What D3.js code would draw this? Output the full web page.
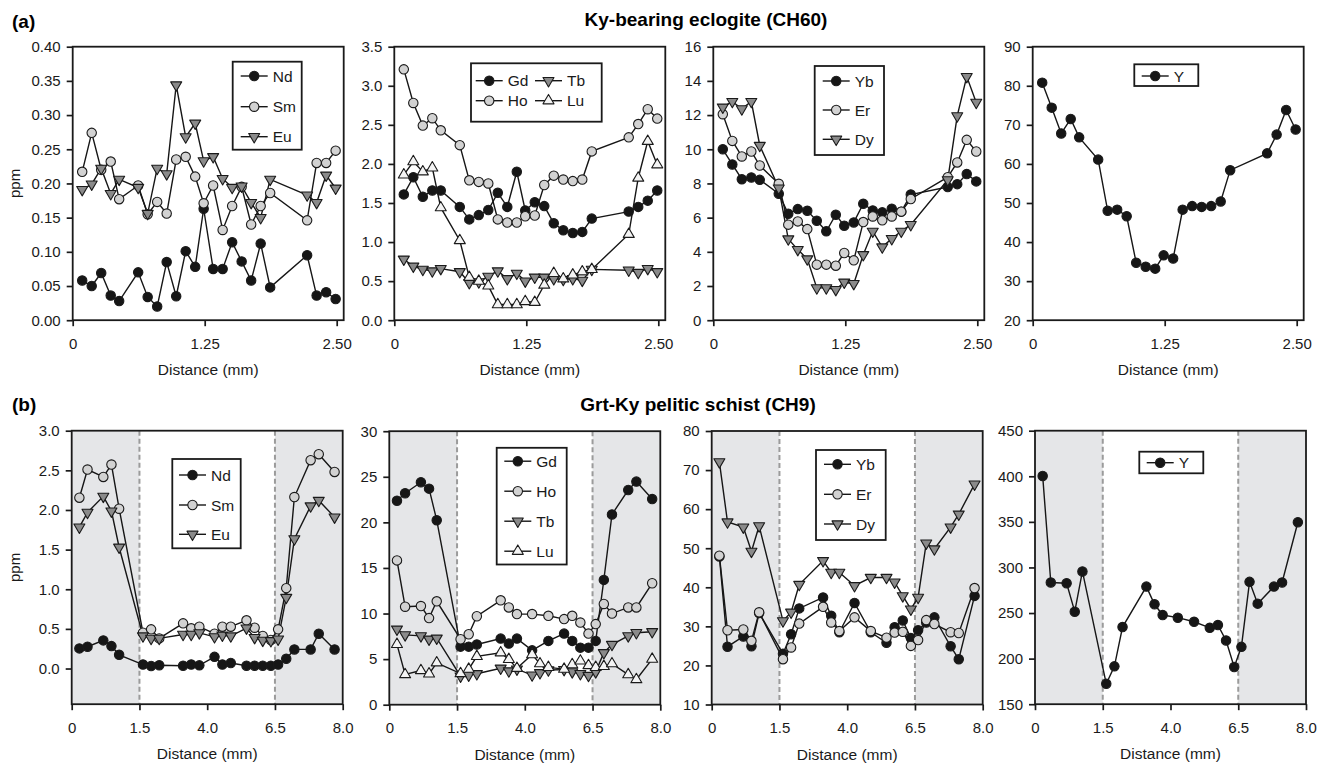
<!DOCTYPE html>
<html>
<head>
<meta charset="utf-8">
<script src="https://cdn.jsdelivr.net/npm/d3@7/dist/d3.min.js"></script>
<style>
  html, body { margin: 0; padding: 0; background: #fff; }
  svg { display: block; font-family: "Liberation Sans", Arial, sans-serif; }
</style>
</head>
<body>
<svg id="chart" width="1334" height="766"></svg>
<script>
// ---- Sampling positions along each traverse (mm) ----
const distA = [0.09, 0.18, 0.27, 0.36, 0.44, 0.62, 0.71, 0.80, 0.89, 0.98, 1.07, 1.16,
               1.24, 1.33, 1.42, 1.51, 1.60, 1.69, 1.78, 1.87, 2.22, 2.31, 2.40, 2.49];
const distB = [0.17, 0.35, 0.70, 0.88, 1.05, 1.63, 1.93, 2.23, 3.11, 3.41, 3.71, 4.27,
               4.56, 4.87, 5.45, 5.75, 6.05, 6.35, 6.57, 6.75, 6.93, 7.29, 7.47, 7.82];

// ---- (a) Ky-bearing eclogite CH60, ppm ----
const ndA = [0.058, 0.050, 0.069, 0.036, 0.028, 0.070, 0.034, 0.020, 0.085, 0.035, 0.101, 0.078,
             0.163, 0.075, 0.075, 0.114, 0.086, 0.058, 0.112, 0.048, 0.095, 0.036, 0.041, 0.031];
const smA = [0.217, 0.274, 0.220, 0.232, 0.177, 0.197, 0.155, 0.173, 0.156, 0.235, 0.239, 0.210,
             0.171, 0.197, 0.132, 0.167, 0.195, 0.140, 0.167, 0.186, 0.146, 0.230, 0.230, 0.248];
const euA = [0.191, 0.199, 0.222, 0.185, 0.206, 0.194, 0.156, 0.222, 0.214, 0.344, 0.268, 0.288,
             0.233, 0.239, 0.207, 0.194, 0.196, 0.172, 0.150, 0.206, 0.183, 0.172, 0.212, 0.193];
const gdA = [1.61, 1.83, 1.58, 1.66, 1.66, 1.45, 1.29, 1.345, 1.41, 1.63, 1.45, 1.90,
             1.405, 1.51, 1.46, 1.24, 1.15, 1.115, 1.13, 1.30, 1.39, 1.45, 1.53, 1.66];
const hoA = [3.21, 2.78, 2.49, 2.585, 2.43, 2.24, 1.79, 1.77, 1.75, 1.29, 1.25, 1.25,
             1.33, 1.34, 1.73, 1.85, 1.80, 1.78, 1.80, 2.16, 2.34, 2.51, 2.70, 2.58];
const tbA = [0.78, 0.69, 0.65, 0.63, 0.66, 0.62, 0.48, 0.49, 0.56, 0.63, 0.53, 0.60,
             0.50, 0.55, 0.55, 0.53, 0.52, 0.53, 0.51, 0.65, 0.64, 0.61, 0.66, 0.62];
const luA = [1.86, 2.03, 1.90, 1.95, 1.44, 1.02, 0.55, 0.50, 0.44, 0.20, 0.20, 0.20,
             0.24, 0.23, 0.45, 0.60, 0.53, 0.58, 0.62, 0.65, 1.10, 1.82, 2.29, 1.99];
const ybA = [10.0, 9.11, 8.25, 8.35, 8.21, 7.40, 6.23, 6.50, 6.40, 5.82, 5.20, 6.17,
             5.53, 5.72, 6.81, 6.42, 6.31, 6.52, 6.35, 7.35, 7.79, 7.96, 8.55, 8.12];
const erA = [12.05, 10.49, 9.58, 9.87, 9.05, 7.98, 5.59, 5.78, 5.33, 3.25, 3.25, 3.19,
             3.93, 3.50, 5.74, 6.07, 5.84, 6.07, 6.35, 7.09, 8.37, 9.23, 10.55, 9.87];
const dyA = [12.46, 12.79, 12.36, 12.79, 10.22, 7.73, 4.75, 4.13, 3.58, 1.89, 1.89, 1.79,
             2.22, 2.14, 3.83, 5.20, 4.28, 4.77, 5.20, 5.59, 8.21, 11.95, 14.25, 12.74];
const yA  = [80.8, 74.4, 67.8, 71.5, 66.8, 61.1, 48.0, 48.3, 46.6, 34.7, 33.7, 33.2,
             36.6, 35.8, 48.3, 49.2, 49.0, 49.2, 50.4, 58.4, 62.7, 67.5, 73.8, 68.8];

// ---- (b) Grt-Ky pelitic schist CH9, ppm (null = no analysis for that element) ----
const ndB = [0.254, 0.275, 0.355, 0.283, 0.173, 0.050, 0.032, 0.042, 0.035, 0.050, 0.040, 0.147,
             0.050, 0.070, 0.035, 0.035, 0.035, 0.035, 0.050, 0.123, 0.241, 0.241, 0.439, 0.241];
const smB = [2.155, 2.51, 2.417, 2.573, 2.016, 0.452, 0.494, 0.38, 0.57, 0.507, 0.528, 0.439,
             0.528, 0.528, 0.608, 0.515, 0.41, 0.36, 0.494, 1.014, 2.163, 2.628, 2.704, 2.48];
const euB = [1.783, 1.969, 2.172, 1.986, 1.53, 0.41, 0.38, 0.38, 0.43, 0.43, 0.45, 0.40,
             0.42, 0.41, 0.51, 0.39, 0.355, 0.35, 0.37, 0.896, 1.635, 2.05, 2.12, 1.91];
const gdB = [22.38, 23.19, 24.40, 23.70, 20.24, 6.37, 6.37, 6.6, 7.25, 6.7, 7.25, 5.96,
             null, 7.0, 7.8, 7.0, 6.26, 6.26, 7.0, 13.69, 20.87, 23.55, 24.47, 22.56];
const hoB = [15.83, 10.75, 10.82, 9.50, 11.34, 7.18, 7.73, 9.7, 11.45, 10.67, 9.94, 9.94,
             null, 9.75, 9.39, 9.75, 9.01, 7.8, 8.84, 11.05, 10.0, 10.67, 10.67, 13.32];
const tbB = [8.28, 7.66, 7.55, 7.18, 7.29, 3.13, 3.24, 3.39, 4.0, 3.7, 3.9, 3.25,
             3.5, 3.8, 3.85, 3.6, 3.4, 3.2, 3.6, 5.7, 6.6, 7.55, 7.9, 8.0];
const luB = [6.62, 3.31, 3.75, 3.39, 4.6, 3.42, 3.9, 5.3, 5.7, 4.97, 4.0, 5.5,
             4.5, 4.1, 3.9, 4.4, 4.8, 4.3, 4.1, 4.2, 4.5, 3.3, 2.76, 5.0];
const ybB = [47.9, 24.8, 27.4, 24.9, 33.4, 23.0, 28.0, 34.6, 37.4, 32.7, 28.5, 36.0,
             null, 28.5, 25.8, 29.8, 31.5, 27.0, 29.0, 31.0, 32.3, 24.9, 21.6, 37.8];
const erB = [48.1, 29.0, 29.2, 26.3, 33.6, 21.6, 24.6, 30.7, 35.0, 31.0, 28.8, 32.3,
             null, 28.8, 27.1, 28.4, 28.6, 25.0, 26.5, 31.6, 30.6, 28.5, 28.3, 39.8];
const dyB = [72.1, 56.7, 55.4, 49.2, 55.7, 31.4, 33.6, 40.7, 46.8, 43.8, 43.8, 40.4,
             null, 42.5, 42.5, 41.3, 37.8, 34.4, 37.4, 51.3, 49.8, 55.4, 58.7, 66.4];
const yB  = [400.4, 283.5, 282.7, 251.5, 295.6, 172.4, 191.5, 234.6, 279.0, 259.6, 247.8, 244.9,
             null, 240.4, 233.8, 236.8, 219.9, 190.8, 212.9, 284.2, 260.3, 279.0, 283.5, 349.6];

// ---- Axis ticks ----
const xTicksA = [0, 1.25, 2.5];
const xTickLabelsA = ["0", "1.25", "2.50"];
const xTicksB = [0, 1.5, 4.0, 6.5, 8.0];
const xTickLabelsB = ["0", "1.5", "4.0", "6.5", "8.0"];
const yTicksA1 = [0, 0.05, 0.10, 0.15, 0.20, 0.25, 0.30, 0.35, 0.40];
const yTicksA2 = [0, 0.5, 1.0, 1.5, 2.0, 2.5, 3.0, 3.5];
const yTicksA3 = [0, 2, 4, 6, 8, 10, 12, 14, 16];
const yTicksA4 = [20, 30, 40, 50, 60, 70, 80, 90];
const yTicksB1 = [0, 0.5, 1.0, 1.5, 2.0, 2.5, 3.0];
const yTicksB2 = [0, 5, 10, 15, 20, 25, 30];
const yTicksB3 = [10, 20, 30, 40, 50, 60, 70, 80];
const yTicksB4 = [150, 200, 250, 300, 350, 400, 450];
const rimBounds = [1.5, 6.5];

// ---- Marker styles ----
const STYLE = {
  dot:    { shape: "circle", fill: "#161616" },
  ring:   { shape: "circle", fill: "#d2d2d2" },
  down:   { shape: "down",   fill: "#8a8a8a" },
  up:     { shape: "up",     fill: "#f4f4f4" }
};

const W = 271, H = 273.5;
const panels = [
  { row: "a", left: 72.7, top: 46.7, xs: distA, yDom: [0, 0.40], yTicks: yTicksA1, fmt: d3.format(".2f"), ppm: true,
    series: [["Nd", ndA, "dot"], ["Sm", smA, "ring"], ["Eu", euA, "down"]],
    legend: { box: [160, 15, 69, 88], items: [[0, 29.3], [0, 60], [0, 90]], cols: [168] } },
  { row: "a", left: 394.3, top: 46.7, xs: distA, yDom: [0, 3.5], yTicks: yTicksA2, fmt: d3.format(".1f"),
    series: [["Gd", gdA, "dot"], ["Ho", hoA, "ring"], ["Tb", tbA, "down"], ["Lu", luA, "up"]],
    legend: { box: [76.7, 16.6, 130.7, 58.4], items: [[0, 34], [0, 54], [1, 34], [1, 54]], cols: [81.4, 140.7] } },
  { row: "a", left: 713.3, top: 46.7, xs: distA, yDom: [0, 16], yTicks: yTicksA3, fmt: d3.format("d"),
    series: [["Yb", ybA, "dot"], ["Er", erA, "ring"], ["Dy", dyA, "down"]],
    legend: { box: [101.4, 19.3, 69.3, 89], items: [[0, 34.3], [0, 63.3], [0, 92.6]], cols: [109.4] } },
  { row: "a", left: 1032.7, top: 46.7, xs: distA, yDom: [20, 90], yTicks: yTicksA4, fmt: d3.format("d"),
    series: [["Y", yA, "dot"]],
    legend: { box: [101.6, 17.6, 64, 21.7], items: [[0, 29.3]], cols: [109] } },
  { row: "b", left: 71.7, top: 430.7, xs: distB, yDom: [-0.45, 3.0], yTicks: yTicksB1, fmt: d3.format(".1f"), ppm: true,
    series: [["Nd", ndB, "dot"], ["Sm", smB, "ring"], ["Eu", euB, "down"]],
    legend: { box: [100.6, 28.3, 68.4, 89.3], items: [[0, 44.3], [0, 74.3], [0, 103.6]], cols: [107.3] } },
  { row: "b", left: 389.3, top: 431.2, xs: distB, yDom: [0, 30], yTicks: yTicksB2, fmt: d3.format("d"),
    series: [["Gd", gdB, "dot"], ["Ho", hoB, "ring"], ["Tb", tbB, "down"], ["Lu", luB, "up"]],
    legend: { box: [107.4, 16.6, 70, 116.7], items: [[0, 30], [0, 60], [0, 90], [0, 120]], cols: [115] } },
  { row: "b", left: 711.7, top: 431, xs: distB, yDom: [10, 80], yTicks: yTicksB3, fmt: d3.format("d"),
    series: [["Yb", ybB, "dot"], ["Er", erB, "ring"], ["Dy", dyB, "down"]],
    legend: { box: [104.3, 19, 69.7, 90], items: [[0, 33.3], [0, 63.3], [0, 93]], cols: [112.3] } },
  { row: "b", left: 1035, top: 430.7, xs: distB, yDom: [150, 450], yTicks: yTicksB4, fmt: d3.format("d"),
    series: [["Y", yB, "dot"]],
    legend: { box: [104.3, 21, 64, 21.6], items: [[0, 32]], cols: [111.7] } }
];

const svg = d3.select("#chart");

function marker(g, shape, fill, cx, cy) {
  if (shape === "circle") {
    g.append("circle").attr("cx", cx).attr("cy", cy).attr("r", 4.7)
      .attr("fill", fill).attr("stroke", "#1a1a1a").attr("stroke-width", 1.1);
  } else {
    const s = 5.5, h = 9.4;
    const pts = shape === "down"
      ? [[cx - s, cy - h / 3], [cx + s, cy - h / 3], [cx, cy + 2 * h / 3]]
      : [[cx - s, cy + h / 3], [cx + s, cy + h / 3], [cx, cy - 2 * h / 3]];
    g.append("path").attr("d", "M" + pts.map(p => p.join(",")).join("L") + "Z")
      .attr("fill", fill).attr("stroke", "#1a1a1a").attr("stroke-width", 1.1).attr("stroke-linejoin", "round");
  }
}

panels.forEach(p => {
  const g = svg.append("g");
  const bottom = p.top + H;
  let x;
  if (p.row === "a") {
    x = d3.scaleLinear().domain([0, 2.5]).range([p.left, p.left + 264]);
  } else {
    x = d3.scaleLinear().domain(xTicksB).range(xTicksB.map((_, i) => p.left + i * W / 4));
  }
  const y = d3.scaleLinear().domain(p.yDom).range([bottom, p.top]);

  // rim zones of the garnet in the schist traverse
  if (p.row === "b") {
    g.append("rect").attr("x", x(0)).attr("y", p.top).attr("width", x(rimBounds[0]) - x(0)).attr("height", H)
      .attr("fill", "#e5e6e8");
    g.append("rect").attr("x", x(rimBounds[1])).attr("y", p.top).attr("width", x(8) - x(rimBounds[1])).attr("height", H)
      .attr("fill", "#e5e6e8");
    rimBounds.forEach(b => {
      g.append("line").attr("x1", x(b)).attr("x2", x(b)).attr("y1", p.top).attr("y2", bottom)
        .attr("stroke", "#9b9b9b").attr("stroke-width", 2).attr("stroke-dasharray", "5,3");
    });
  }

  // axes
  const yAxis = d3.axisLeft(y).tickValues(p.yTicks).tickFormat(p.fmt).tickSize(6).tickPadding(6);
  const xAxis = d3.axisBottom(x)
    .tickValues(p.row === "a" ? xTicksA : xTicksB)
    .tickFormat((d, i) => (p.row === "a" ? xTickLabelsA : xTickLabelsB)[i])
    .tickSize(6).tickPadding(12);
  const ya = g.append("g").attr("transform", `translate(${p.left},0)`).call(yAxis);
  const xa = g.append("g").attr("transform", `translate(0,${bottom})`).call(xAxis);
  [ya, xa].forEach(a => {
    a.select(".domain").remove();
    a.selectAll("line").attr("stroke", "#1a1a1a").attr("stroke-width", 1.7);
    a.selectAll("text").attr("fill", "#1a1a1a").style("font-size", "15px")
      .style("font-family", '"Liberation Sans", Arial, sans-serif');
  });

  // series
  p.series.forEach(([name, vals]) => {
    const pts = p.xs.map((d, i) => [d, vals[i]]).filter(d => d[1] !== null);
    g.append("path").datum(pts)
      .attr("d", d3.line().x(d => x(d[0])).y(d => y(d[1])))
      .attr("fill", "none").attr("stroke", "#161616").attr("stroke-width", 1.4);
  });
  p.series.forEach(([name, vals, key]) => {
    const st = STYLE[key];
    const mg = g.append("g");
    p.xs.forEach((d, i) => {
      if (vals[i] !== null) marker(mg, st.shape, st.fill, x(d), y(vals[i]));
    });
  });

  // frame
  g.append("rect").attr("x", p.left).attr("y", p.top).attr("width", W).attr("height", H)
    .attr("fill", "none").attr("stroke", "#1a1a1a").attr("stroke-width", 1.8);

  // legend
  const lg = g.append("g").attr("transform", `translate(${p.left},${p.top})`);
  const [bx, by, bw, bh] = p.legend.box;
  lg.append("rect").attr("x", bx).attr("y", by).attr("width", bw).attr("height", bh)
    .attr("fill", "#fff").attr("stroke", "#1a1a1a").attr("stroke-width", 1.8);
  p.series.forEach(([name, vals, key], i) => {
    const [col, ry] = p.legend.items[i];
    const lx = p.legend.cols[col];
    const st = STYLE[key];
    lg.append("line").attr("x1", lx).attr("x2", lx + 27).attr("y1", ry).attr("y2", ry)
      .attr("stroke", "#161616").attr("stroke-width", 1.4);
    marker(lg, st.shape, st.fill, lx + 13.5, ry);
    lg.append("text").attr("x", lx + 32).attr("y", ry).attr("dy", "0.36em")
      .style("font-size", "15.5px").attr("fill", "#1a1a1a").text(name);
  });

  // axis titles
  g.append("text").attr("x", p.left + W / 2).attr("y", bottom + 55).attr("text-anchor", "middle")
    .style("font-size", "15.5px").attr("fill", "#1a1a1a").text("Distance (mm)");
  if (p.ppm) {
    g.append("text").attr("transform", `translate(20,${p.top + H / 2}) rotate(-90)`)
      .attr("text-anchor", "middle").style("font-size", "15px").attr("fill", "#1a1a1a").text("ppm");
  }
});

// panel headings
svg.append("text").attr("x", 12).attr("y", 28).style("font-size", "19px").style("font-weight", "bold").text("(a)");
svg.append("text").attr("x", 12).attr("y", 411).style("font-size", "19px").style("font-weight", "bold").text("(b)");
svg.append("text").attr("x", 706).attr("y", 26).attr("text-anchor", "middle")
  .style("font-size", "19px").style("font-weight", "bold").text("Ky-bearing eclogite (CH60)");
svg.append("text").attr("x", 698).attr("y", 411).attr("text-anchor", "middle")
  .style("font-size", "19px").style("font-weight", "bold").text("Grt-Ky pelitic schist (CH9)");
</script>
</body>
</html>
